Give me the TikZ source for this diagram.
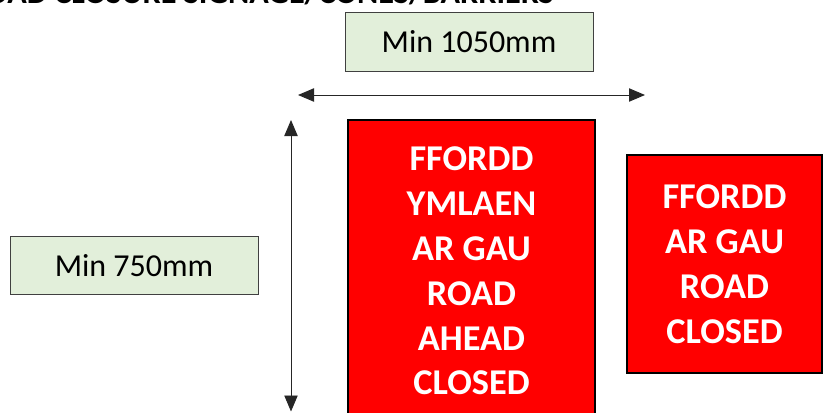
\documentclass[tikz,border=0pt]{standalone}
\usepackage{fontspec}
\setmainfont{Carlito}
\usepackage{xcolor}
\usetikzlibrary{arrows.meta,positioning}

\definecolor{labelgreen}{HTML}{E2EFDA}
\definecolor{signred}{HTML}{FF0000}

\begin{document}
\begin{tikzpicture}[x=0.03cm, y=-0.03cm,
    sizebox/.style={draw=black!75, fill=labelgreen, line width=0.8pt,
      minimum width=7.44cm, minimum height=1.75cm, inner sep=0pt,
      font=\fontsize{27.3}{32}\selectfont},
    signbox/.style={draw=black, fill=signred, line width=2.3pt, inner sep=0pt,
      text=white, align=center, font=\fontsize{31}{38.3}\selectfont\bfseries},
    dimline/.style={black!85, line width=0.8pt,
      {Triangle[length=0.48cm, width=0.4cm]}-{Triangle[length=0.48cm, width=0.4cm]}}]
  \useasboundingbox (0,0) rectangle (823,412);

  % heading, cut off at the top
  \node[anchor=base east, inner sep=0pt, font=\fontsize{27.5}{30}\selectfont\bfseries]
    (heading) at (554,3.5) {ROAD CLOSURE SIGNAGE/CONES/BARRIERS};

  % size labels
  \node[sizebox] (minwidth) at (469,42) {Min 1050mm};
  \node[sizebox] (minheight) at (134,265.5) {Min 750mm};

  % dimension arrows
  \coordinate (wleft) at (298,95);
  \coordinate (wright) at (645,95);
  \draw[dimline] (wleft) -- (wright);
  \coordinate (htop) at (291,120);
  \coordinate (hbottom) at (291,411.5);
  \draw[dimline] (htop) -- (hbottom);

  % signs
  \node[signbox, minimum width=7.41cm, minimum height=9.06cm] (signahead) at (471.5,271)
    {FFORDD\\YMLAEN\\AR GAU\\ROAD\\AHEAD\\CLOSED};
  \node[signbox, minimum width=5.85cm, minimum height=6.54cm] (signclosed) at (724.5,264)
    {FFORDD\\AR GAU\\ROAD\\CLOSED};
\end{tikzpicture}
\end{document}
